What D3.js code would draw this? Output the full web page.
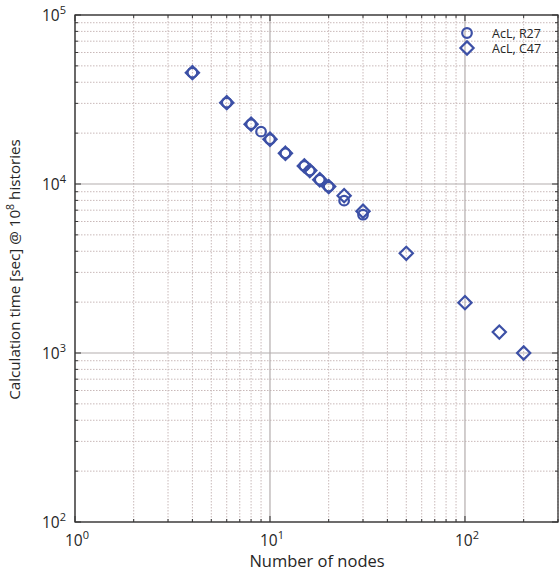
<!DOCTYPE html>
<html>
<head>
<meta charset="utf-8">
<script src="https://cdn.jsdelivr.net/npm/d3@7"></script>
<style>
  html, body { margin: 0; padding: 0; background: #fff; }
  svg { display: block; font-family: "Open Sans", "DejaVu Sans", sans-serif; }
</style>
</head>
<body>
<svg id="chart" width="560" height="572"></svg>
<script>
// Scaling study: calculation time versus number of nodes
const nodesR27 = [4, 6, 8, 9, 10, 12, 15, 16, 18, 20, 24, 30];
const timeR27  = [45600, 30300, 22600, 20400, 18400, 15200, 12800, 12000, 10600, 9650, 7970, 6580];
const nodesC47 = [4, 6, 8, 10, 12, 15, 16, 18, 20, 24, 30, 50, 100, 150, 200];
const timeC47  = [45600, 30300, 22600, 18400, 15200, 12800, 12000, 10600, 9650, 8530, 6900, 3890, 1985, 1330, 1000];
const seriesNames = ["AcL, R27", "AcL, C47"];
const xTickExps = [0, 1, 2];
const yTickExps = [2, 3, 4, 5];

const svg = d3.select("#chart");
const m = { left: 75, right: 2, top: 15, bottom: 50 };
const W = 560, H = 572;
const x0 = m.left, x1 = W - m.right, y0 = m.top, y1 = H - m.bottom;

const x = d3.scaleLog().domain([1, 300]).range([x0, x1]);
const y = d3.scaleLog().domain([100, 100000]).range([y1, y0]);

const blue = "#3c50a6";
const ink = "#262626";

// major (1×10^n) and minor (2..9×10^n) tick values
function logTicks(lo, hi) {
  const major = [], minor = [];
  for (let e = Math.floor(Math.log10(lo)); e <= Math.ceil(Math.log10(hi)); e++) {
    for (let k = 1; k < 10; k++) {
      const v = k * Math.pow(10, e);
      if (v < lo * 0.999 || v > hi * 1.001) continue;
      (k === 1 ? major : minor).push(v);
    }
  }
  return { major, minor };
}
const xt = logTicks(1, 300), yt = logTicks(100, 100000);

// grid
const grid = svg.append("g");
grid.selectAll(".xminor").data(xt.minor).join("line")
  .attr("x1", d => x(d)).attr("x2", d => x(d)).attr("y1", y0).attr("y2", y1)
  .attr("stroke", "#c9b9b9").attr("stroke-width", 1).attr("stroke-dasharray", "1.5,1.5");
grid.selectAll(".yminor").data(yt.minor).join("line")
  .attr("y1", d => y(d)).attr("y2", d => y(d)).attr("x1", x0).attr("x2", x1)
  .attr("stroke", "#c9b9b9").attr("stroke-width", 1).attr("stroke-dasharray", "1.5,1.5");
grid.selectAll(".xmajor").data(xt.major).join("line")
  .attr("x1", d => x(d)).attr("x2", d => x(d)).attr("y1", y0).attr("y2", y1)
  .attr("stroke", "#b3adad").attr("stroke-width", 1.2);
grid.selectAll(".ymajor").data(yt.major).join("line")
  .attr("y1", d => y(d)).attr("y2", d => y(d)).attr("x1", x0).attr("x2", x1)
  .attr("stroke", "#b3adad").attr("stroke-width", 1.2);

// inward ticks on all four sides
const tickG = svg.append("g").attr("stroke", "#333").attr("stroke-width", 1);
function ticksX(vals, len) {
  vals.forEach(v => {
    tickG.append("line").attr("x1", x(v)).attr("x2", x(v)).attr("y1", y1).attr("y2", y1 - len);
    tickG.append("line").attr("x1", x(v)).attr("x2", x(v)).attr("y1", y0).attr("y2", y0 + len);
  });
}
function ticksY(vals, len) {
  vals.forEach(v => {
    tickG.append("line").attr("y1", y(v)).attr("y2", y(v)).attr("x1", x0).attr("x2", x0 + len);
    tickG.append("line").attr("y1", y(v)).attr("y2", y(v)).attr("x1", x1).attr("x2", x1 - len);
  });
}
ticksX(xt.major, 6); ticksX(xt.minor, 3);
ticksY(yt.major, 6); ticksY(yt.minor, 3);

// frame
svg.append("rect").attr("x", x0).attr("y", y0).attr("width", x1 - x0).attr("height", y1 - y0)
  .attr("fill", "none").attr("stroke", "#333").attr("stroke-width", 1.3);

// tick labels as powers of ten
function powLabel(g, e) {
  g.append("tspan").text("10");
  g.append("tspan").attr("dy", -7).attr("font-size", 11).text(e);
}
xTickExps.forEach(e => {
  const t = svg.append("text").attr("x", x(Math.pow(10, e)) + 2).attr("y", y1 + 24)
    .attr("text-anchor", "middle").attr("font-size", 15.5).attr("fill", ink);
  powLabel(t, e);
});
yTickExps.forEach(e => {
  const t = svg.append("text").attr("x", x0 - 9).attr("y", y(Math.pow(10, e)) + 6)
    .attr("text-anchor", "end").attr("font-size", 15.5).attr("fill", ink);
  powLabel(t, e);
});

// axis titles
svg.append("text").attr("x", 317).attr("y", H - 5)
  .attr("text-anchor", "middle").attr("font-size", 16.5).attr("fill", ink).text("Number of nodes");
const yl = svg.append("text")
  .attr("transform", `translate(20,${(y0 + y1) / 2 + 1}) rotate(-90)`)
  .attr("text-anchor", "middle").attr("font-size", 15.2).attr("fill", ink);
yl.append("tspan").text("Calculation time [sec] @ 10");
yl.append("tspan").attr("dy", -6).attr("font-size", 10.5).text("8");
yl.append("tspan").attr("dy", 6).text(" histories");

// markers
function diamondPath(s) { return `M0,${-s}L${s},0L0,${s}L${-s},0Z`; }

const pts = svg.append("g");
pts.selectAll(".r27").data(nodesR27.map((n, i) => [n, timeR27[i]])).join("circle")
  .attr("cx", d => x(d[0])).attr("cy", d => y(d[1])).attr("r", 4.8)
  .attr("fill", "none").attr("stroke", blue).attr("stroke-width", 2.2);
pts.selectAll(".c47").data(nodesC47.map((n, i) => [n, timeC47[i]])).join("path")
  .attr("transform", d => `translate(${x(d[0])},${y(d[1])})`)
  .attr("d", diamondPath(6.6))
  .attr("fill", "none").attr("stroke", blue).attr("stroke-width", 2.2);

// legend
const lg = svg.append("g");
lg.append("circle").attr("cx", 467).attr("cy", 33).attr("r", 4.8)
  .attr("fill", "none").attr("stroke", blue).attr("stroke-width", 2.2);
lg.append("path").attr("transform", "translate(467,48)").attr("d", diamondPath(6.6))
  .attr("fill", "none").attr("stroke", blue).attr("stroke-width", 2.2);
lg.selectAll(".lt").data(seriesNames).join("text")
  .attr("x", 492).attr("y", (d, i) => 37.5 + i * 15.5)
  .attr("font-size", 12.5).attr("fill", ink).text(d => d);
</script>
</body>
</html>
